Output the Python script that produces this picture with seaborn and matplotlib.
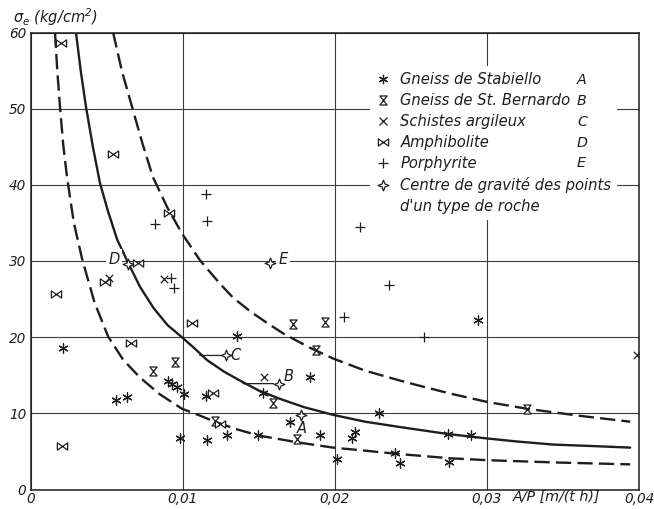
import matplotlib
matplotlib.use("Agg")
import matplotlib.pyplot as plt
from matplotlib.path import Path
from matplotlib.lines import Line2D
import seaborn as sns

# ---------------------------------------------------------------- data
# Gneiss de Stabiello (A)
stabiello_x = [0.00214, 0.00904, 0.00930, 0.00963, 0.01009, 0.00562, 0.00634,
               0.01154, 0.00983, 0.01160, 0.01292, 0.01358, 0.01529, 0.01838,
               0.01706, 0.01496, 0.01903, 0.02114, 0.02133, 0.02015, 0.02292,
               0.02397, 0.02430, 0.02745, 0.02897, 0.02752, 0.02942]
stabiello_y = [18.6, 14.2, 13.9, 13.5, 12.6, 11.7, 12.1,
               12.3, 6.8, 6.5, 7.1, 20.2, 12.7, 14.8,
               8.9, 7.1, 7.1, 6.7, 7.5, 4.0, 10.0,
               4.8, 3.5, 7.3, 7.2, 3.6, 22.3]

# Gneiss de St. Bernardo (B)
bernardo_x = [0.00951, 0.00805, 0.01213, 0.01594, 0.01752, 0.01877, 0.01726,
              0.01936, 0.03264]
bernardo_y = [16.7, 15.5, 9.0, 11.3, 6.6, 18.3, 21.7, 22.0, 10.6]

# Schistes argileux (C)
schistes_x = [0.00516, 0.00878, 0.01535, 0.03985]
schistes_y = [27.8, 27.6, 14.8, 17.6]

# Amphibolite (D)
amphibolite_x = [0.00201, 0.00542, 0.00911, 0.00707, 0.00490, 0.00168,
                 0.01062, 0.00661, 0.01200, 0.01246, 0.00207]
amphibolite_y = [58.6, 44.0, 36.3, 29.7, 27.2, 25.7, 21.9, 19.2, 12.7, 8.6, 5.7]

# Porphyrite (E)
porphyrite_x = [0.00819, 0.01154, 0.01160, 0.00924, 0.00943, 0.02166,
                0.02357, 0.02061, 0.02587]
porphyrite_y = [34.8, 38.8, 35.2, 27.8, 26.4, 34.5, 26.8, 22.7, 20.0]

# centres of gravity of each rock type
centre_labels = ["A", "B", "C", "D", "E"]
centre_x = [0.01779, 0.01634, 0.01286, 0.00641, 0.01575]
centre_y = [9.8, 13.9, 17.6, 29.6, 29.7]

# mean curve and its two bounding curves
mean_x = [0.00299, 0.00330, 0.00365, 0.00410, 0.00457, 0.00510, 0.00570,
          0.00641, 0.00720, 0.00810, 0.00900, 0.00995, 0.01080, 0.01160,
          0.01270, 0.01377, 0.01500, 0.01640, 0.01800, 0.01989, 0.02200,
          0.02429, 0.02738, 0.03001, 0.03200, 0.03435, 0.03700, 0.03942]
mean_y = [60.0, 55.0, 50.2, 45.0, 40.2, 36.5, 32.8,
          29.8, 26.6, 23.8, 21.6, 20.0, 18.5, 17.0,
          15.5, 14.3, 13.0, 11.9, 10.8, 9.8, 8.9,
          8.2, 7.3, 6.7, 6.3, 5.9, 5.7, 5.5]

upper_x = [0.00543, 0.00600, 0.00668, 0.00735, 0.00805, 0.00900, 0.00996,
           0.01114, 0.01246, 0.01331, 0.01450, 0.01560, 0.01660, 0.01838,
           0.01989, 0.02200, 0.02429, 0.02600, 0.02758, 0.03001, 0.03264,
           0.03600, 0.03942]
upper_y = [60.0, 55.0, 50.2, 45.5, 41.0, 37.0, 33.6,
           30.1, 27.0, 25.2, 23.3, 21.8, 20.5, 18.6,
           17.2, 15.6, 14.3, 13.4, 12.6, 11.5, 10.6,
           9.7, 8.9]

lower_x = [0.00161, 0.00176, 0.00194, 0.00215, 0.00240, 0.00285, 0.00339,
           0.00420, 0.00510, 0.00610, 0.00720, 0.00850, 0.00996, 0.01114,
           0.01200, 0.01340, 0.01496, 0.01752, 0.01989, 0.02200, 0.02397,
           0.02758, 0.03001, 0.03450, 0.03942]
lower_y = [60.0, 55.0, 50.2, 45.3, 41.0, 35.0, 30.3,
           24.6, 20.1, 17.0, 14.7, 12.5, 10.6, 9.7,
           9.0, 8.0, 7.1, 6.2, 5.5, 5.1, 4.7,
           4.1, 3.85, 3.55, 3.3]

x_ticks = [0.0, 0.01, 0.02, 0.03, 0.04]
x_ticklabels = ["0", "0,01", "0,02", "0,03", "0,04"]
y_ticks = [0, 10, 20, 30, 40, 50, 60]
y_ticklabels = ["0", "10", "20", "30", "40", "50", "60"]

legend_labels = ["Gneiss de Stabiello", "Gneiss de St. Bernardo",
                 "Schistes argileux", "Amphibolite", "Porphyrite",
                 "Centre de gravité des points", "d'un type de roche"]

# ---------------------------------------------------------------- style
sns.set_theme(style="white")
plt.rcParams["font.family"] = ["DejaVu Sans"]
plt.rcParams["font.style"] = "italic"
plt.rcParams["mathtext.fontset"] = "dejavusans"

ink = "#1e1e1e"
grid_col = "#3a3a3a"

# marker shapes
hourglass = Path([(-0.8, 1), (0.8, 1), (-0.8, -1), (0.8, -1), (0, 0)],
                 [Path.MOVETO, Path.LINETO, Path.LINETO, Path.LINETO, Path.CLOSEPOLY])
bowtie = Path([(-1, 0.7), (1, -0.7), (1, 0.7), (-1, -0.7), (0, 0)],
              [Path.MOVETO, Path.LINETO, Path.LINETO, Path.LINETO, Path.CLOSEPOLY])
r = 0.28
centre_mark = Path([(0, 1), (r, r), (1, 0), (r, -r), (0, -1), (-r, -r), (-1, 0), (-r, r), (0, 0)],
                   [Path.MOVETO] + [Path.LINETO] * 7 + [Path.CLOSEPOLY])
asterisk = (6, 2, 0)

fig = plt.figure(figsize=(6.54, 5.09), dpi=100)
fig.patch.set_facecolor("white")
ax = fig.add_axes([30.5 / 654, 1 - 489.5 / 509, (639 - 30.5) / 654, (489.5 - 32.5) / 509])

# curves
dash = (0, (6.5, 2.6))
sns.lineplot(x=mean_x, y=mean_y, sort=False, estimator=None, color=ink, lw=1.7, ax=ax, zorder=2)
sns.lineplot(x=upper_x, y=upper_y, sort=False, estimator=None, color=ink, lw=1.7,
             linestyle=dash, ax=ax, zorder=2)
sns.lineplot(x=lower_x, y=lower_y, sort=False, estimator=None, color=ink, lw=1.7,
             linestyle=dash, ax=ax, zorder=2)

# measured points
mlw = 0.9
sns.scatterplot(x=stabiello_x, y=stabiello_y, marker=asterisk, s=45, color=ink,
                linewidth=mlw, ax=ax, zorder=4)
sns.scatterplot(x=bernardo_x, y=bernardo_y, marker=hourglass, s=42, facecolor="white",
                edgecolor=ink, linewidth=mlw, ax=ax, zorder=4)
sns.scatterplot(x=schistes_x, y=schistes_y, marker="x", s=28, color=ink,
                linewidth=mlw, ax=ax, zorder=4)
sns.scatterplot(x=amphibolite_x, y=amphibolite_y, marker=bowtie, s=55, facecolor="white",
                edgecolor=ink, linewidth=mlw, ax=ax, zorder=4)
sns.scatterplot(x=porphyrite_x, y=porphyrite_y, marker="+", s=45, color=ink,
                linewidth=mlw, ax=ax, zorder=4)
sns.scatterplot(x=centre_x, y=centre_y, marker=centre_mark, s=60, facecolor="white",
                edgecolor=ink, linewidth=mlw, ax=ax, zorder=5)

# centre-of-gravity letters and leader lines
label_offsets = {"A": (0.7, -9.5), "B": (7.2, 5.0), "C": (7.0, 0.0),
                 "D": (-10.0, 3.6), "E": (9.4, 2.9)}
for lab, cx, cy in zip(centre_labels, centre_x, centre_y):
    dx, dy = label_offsets[lab]
    ax.annotate(lab, xy=(cx, cy), xytext=(dx, dy), textcoords="offset points",
                ha="center", va="center", fontsize=10.5, color=ink, zorder=3,
                bbox=dict(boxstyle="square,pad=0.15", fc="white", ec="none"))
leaders = {"B": -26.0, "C": -19.0}
for lab, cx, cy in zip(centre_labels, centre_x, centre_y):
    if lab in leaders:
        ax.annotate("", xy=(cx, cy), xytext=(leaders[lab], 0), textcoords="offset points",
                    arrowprops=dict(arrowstyle="-", shrinkA=0, shrinkB=4, lw=0.9, color=ink),
                    zorder=3)

# axes, grid, ticks
ax.set_xlim(0, 0.04)
ax.set_ylim(0, 60)
ax.set_xticks(x_ticks)
ax.set_xticklabels(x_ticklabels)
ax.set_yticks(y_ticks)
ax.set_yticklabels(y_ticklabels)
ax.tick_params(axis="both", length=0, labelsize=9.8, colors=ink)
ax.tick_params(axis="x", pad=2)
ax.tick_params(axis="y", pad=3)
ax.set_axisbelow(True)
ax.grid(True, color=grid_col, lw=0.8)
for sp in ax.spines.values():
    sp.set_visible(True)
    sp.set_color(ink)
    sp.set_linewidth(1.1)
ax.set_xlabel("")
ax.set_ylabel("")
ax.set_facecolor("white")

fig.text(13 / 654, 1 - 17 / 509, r"$\sigma_e$ (kg/cm$^2$)", ha="left", va="center",
         fontsize=10.5, color=ink)
fig.text(513 / 654, 1 - 497 / 509, "A/P [m/(t h)]", ha="left", va="center",
         fontsize=10.3, color=ink)

# legend
leg_fs = 10.6
handles = [
    Line2D([], [], ls="none", marker=asterisk, ms=6.7, mew=mlw, color=ink),
    Line2D([], [], ls="none", marker=hourglass, ms=6.5, mfc="none", mec=ink, mew=mlw),
    Line2D([], [], ls="none", marker="x", ms=5.3, mew=mlw, color=ink),
    Line2D([], [], ls="none", marker=bowtie, ms=7.4, mfc="none", mec=ink, mew=mlw),
    Line2D([], [], ls="none", marker="+", ms=6.7, mew=mlw, color=ink),
    Line2D([], [], ls="none", marker=centre_mark, ms=7.7, mfc="white", mec=ink, mew=mlw),
    Line2D([], [], ls="none"),
]
leg = ax.legend(handles, legend_labels, loc="upper left",
                bbox_to_anchor=((370 - 30.5) / 608.5, (489.5 - 66.5) / 457),
                fontsize=leg_fs, frameon=True, fancybox=False, framealpha=1,
                facecolor="white", edgecolor="none", borderpad=0.4,
                handlelength=1.0, handletextpad=0.66, labelspacing=0.40,
                borderaxespad=0)
leg.set_zorder(6)
for t in leg.get_texts():
    t.set_color(ink)

fig.canvas.draw()
inv = ax.transAxes.inverted()
for txt, lab in zip(leg.get_texts(), centre_labels):
    bb = txt.get_window_extent()
    _, yc = inv.transform(((bb.x0 + bb.x1) / 2, (bb.y0 + bb.y1) / 2))
    ax.text((577 - 30.5) / 608.5, yc, lab, transform=ax.transAxes, ha="left",
            va="center", fontsize=10.3, color=ink, zorder=7)

fig.savefig("out.png", dpi=100, facecolor="white")
